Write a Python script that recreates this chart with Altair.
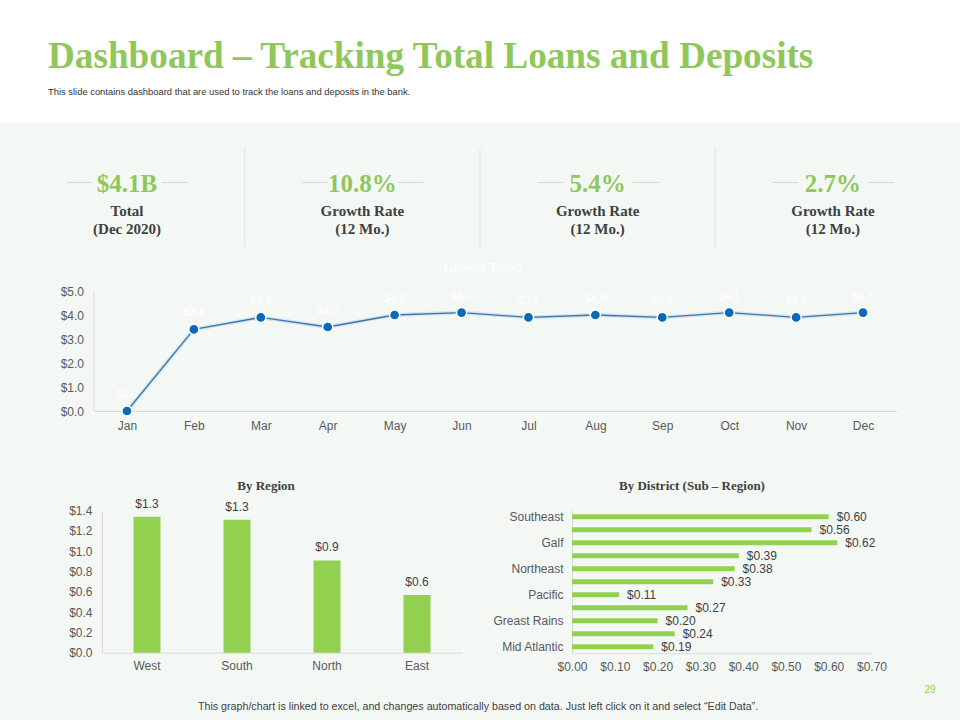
import json
import altair as alt
import pandas as pd

W, H = 960, 720
SERIF = "Liberation Serif"
SANS = "Liberation Sans"
GREEN = "#8fc75a"
BARGREEN = "#92d050"
BG = "#f4f8f5"
AXC = "#d9d9d9"
LBC = "#595959"
DARK = "#404040"

# ---------------- data ----------------
title_text = "Dashboard – Tracking Total Loans and Deposits"
subtitle_text = "This slide contains dashboard that are used to track the  loans and deposits in the bank."
footer_text = "This graph/chart is linked to excel, and changes automatically based on data. Just left click on it and select “Edit Data”."
page_no = "29"

kpi_values = ["$4.1B", "10.8%", "5.4%", "2.7%"]
kpi_line1 = ["Total", "Growth Rate", "Growth Rate", "Growth Rate"]
kpi_line2 = ["(Dec 2020)", "(12 Mo.)", "(12 Mo.)", "(12 Mo.)"]

trend_title = "Growth Trend"
months = ["Jan", "Feb", "Mar", "Apr", "May", "Jun", "Jul", "Aug", "Sep", "Oct", "Nov", "Dec"]
loans = [0.0, 3.4, 3.9, 3.5, 4.0, 4.1, 3.9, 4.0, 3.9, 4.1, 3.9, 4.1]
trend_ticks = [0, 1, 2, 3, 4, 5]

region_title = "By Region"
regions = ["West", "South", "North", "East"]
region_values = [1.34, 1.31, 0.91, 0.57]
region_ticks = [0, 0.2, 0.4, 0.6, 0.8, 1.0, 1.2, 1.4]

district_title = "By District (Sub – Region)"
district_labels = ["Southeast", "", "Galf", "", "Northeast", "", "Pacific", "", "Greast Rains", "", "Mid Atlantic"]
district_values = [0.60, 0.56, 0.62, 0.39, 0.38, 0.33, 0.11, 0.27, 0.20, 0.24, 0.19]
district_ticks = [0, 0.1, 0.2, 0.3, 0.4, 0.5, 0.6, 0.7]


# ---------------- helpers ----------------
def txt(s, x, y, size, color, font=SANS, weight="normal", align="left", baseline="alphabetic"):
    return alt.Chart(pd.DataFrame({"t": [s]})).mark_text(
        font=font, fontSize=size, fontWeight=weight, color=color,
        align=align, baseline=baseline
    ).encode(text="t:N", x=alt.value(x), y=alt.value(y))


def axis(orient, offset, **kw):
    base = dict(orient=orient, offset=offset, grid=False, ticks=False, labelOverlap=False,
                labelFlush=False, domainColor=AXC, labelColor=LBC, labelFont=SANS,
                labelFontSize=12)
    base.update(kw)
    return alt.Axis(**base)


# ---------------- background & header ----------------
bg = alt.Chart(pd.DataFrame({"a": [0]})).mark_rect(color="white").encode(
    x=alt.value(0), x2=alt.value(W), y=alt.value(0), y2=alt.value(123)
)
title = txt(title_text, 48, 68, 37.2, GREEN, font=SERIF, weight="bold")
subtitle = txt(subtitle_text, 48, 95, 9.4, "#333333")
footer = txt(footer_text, 478, 710, 10.7, DARK, align="center")
page = txt(page_no, 930, 693, 10, BARGREEN, align="center")

# ---------------- KPI row ----------------
kpi_df = pd.DataFrame({"idx": list(range(len(kpi_values))), "value": kpi_values,
                       "l1": kpi_line1, "l2": kpi_line2})
kx = alt.Scale(domain=[-0.5, 3.5], range=[9.35, 950.6])
kb = alt.Chart(kpi_df)
kpi_val = kb.mark_text(font=SERIF, fontSize=25, fontWeight="bold", color=GREEN,
                       baseline="alphabetic").encode(
    x=alt.X("idx:Q", scale=kx, axis=None), y=alt.value(191.5), text="value:N")
kpi_l1 = kb.mark_text(font=SERIF, fontSize=15, fontWeight="bold", color=DARK,
                      baseline="alphabetic").encode(
    x=alt.X("idx:Q", scale=kx, axis=None), y=alt.value(216), text="l1:N")
kpi_l2 = kb.mark_text(font=SERIF, fontSize=15, fontWeight="bold", color=DARK,
                      baseline="alphabetic").encode(
    x=alt.X("idx:Q", scale=kx, axis=None), y=alt.value(234), text="l2:N")
kl = kb.transform_calculate(a="datum.idx - 0.255", b="datum.idx - 0.149",
                            c="datum.idx + 0.149", d="datum.idx + 0.259")
kpi_left = kl.mark_rule(color="#cfdccf", strokeWidth=1).encode(
    x=alt.X("a:Q", scale=kx, axis=None), x2="b:Q", y=alt.value(182.5))
kpi_right = kl.mark_rule(color="#cfdccf", strokeWidth=1).encode(
    x=alt.X("c:Q", scale=kx, axis=None), x2="d:Q", y=alt.value(182.5))
kpi_div = kb.transform_filter("datum.idx < 3").transform_calculate(
    m="datum.idx + 0.5").mark_rule(color="#dde6dd", strokeWidth=1).encode(
    x=alt.X("m:Q", scale=kx, axis=None), y=alt.value(148), y2=alt.value(247))
kpi = alt.layer(kpi_div, kpi_left, kpi_right, kpi_val, kpi_l1, kpi_l2)

# ---------------- line chart ----------------
line_df = pd.DataFrame({"month": months, "loans": loans})
lb = alt.Chart(line_df).encode(
    x=alt.X("month:N", sort=months, title=None,
            scale=alt.Scale(type="point", padding=0.5, range=[93.5, 896.5]),
            axis=axis("bottom", 411 - H, labelAngle=0, labelPadding=9)),
    y=alt.Y("loans:Q", title=None,
            scale=alt.Scale(domain=[0, 5], range=[411, 291], nice=False),
            axis=axis("left", -93.5, values=trend_ticks, format="$.1f", labelPadding=10)),
)
glow = lb.mark_line(color="#b9d4ec", strokeWidth=4, opacity=0.5)
line = lb.mark_line(color="#3a76ad", strokeWidth=1.3)
pts = lb.mark_circle(size=105, color="#0b69bb", stroke="white", strokeWidth=1.5, opacity=1)
plabels = lb.mark_text(dy=-16, color="white", font=SANS, fontSize=11).encode(
    text=alt.Text("loans:Q", format="$.1f"))
trend = alt.layer(glow, line, pts, plabels)
trend_t = txt(trend_title, 483, 268, 13, "white", align="center", baseline="middle")

# ---------------- region bars ----------------
reg_df = pd.DataFrame({"region": regions, "value": region_values})
rb = alt.Chart(reg_df).encode(
    x=alt.X("region:N", sort=regions, title=None,
            scale=alt.Scale(type="band", range=[102, 462], paddingInner=0.7, paddingOuter=0.35),
            axis=axis("bottom", 652.7 - H, labelAngle=0, labelPadding=8)),
    y=alt.Y("value:Q", title=None,
            scale=alt.Scale(domain=[0, 1.4], range=[652.7, 510.7], nice=False),
            axis=axis("left", -102, values=region_ticks, format="$.1f", labelPadding=10)),
)
rbars = rb.mark_bar(color=BARGREEN)
rtext = rb.mark_text(dy=-6, baseline="bottom", color=DARK, font=SANS, fontSize=12).encode(
    text=alt.Text("value:Q", format="$.1f"))
region = alt.layer(rbars, rtext)
region_t = txt(region_title, 266, 490, 13, DARK, font=SERIF, weight="bold", align="center")

# ---------------- district bars ----------------
dist_df = pd.DataFrame({"row": list(range(len(district_values))), "value": district_values})
label_expr = json.dumps(district_labels) + "[datum.value]"
db = alt.Chart(dist_df).encode(
    y=alt.Y("row:O", title=None,
            scale=alt.Scale(type="band", range=[510.2, 653.2], paddingInner=0.62, paddingOuter=0.31),
            axis=axis("left", -572, labelExpr=label_expr, labelPadding=9)),
    x=alt.X("value:Q", title=None,
            scale=alt.Scale(domain=[0, 0.7], range=[572, 871.5], nice=False),
            axis=axis("bottom", 653.2 - H, values=district_ticks, format="$.2f", labelPadding=8)),
)
dbars = db.mark_bar(color=BARGREEN)
dtext = db.mark_text(dx=8, align="left", baseline="middle", color=DARK, font=SANS, fontSize=12).encode(
    text=alt.Text("value:Q", format="$.2f"))
district = alt.layer(dbars, dtext)
district_t = txt(district_title, 692, 490, 13, DARK, font=SERIF, weight="bold", align="center")

chart = alt.layer(
    bg, title, subtitle, kpi, trend, trend_t, region, region_t, district, district_t, footer, page
).resolve_scale(
    x="independent", y="independent"
).properties(
    width=W, height=H, padding=0, background=BG,
    autosize=alt.AutoSizeParams(type="none"),
).configure_view(stroke=None)

chart.save("out.html", embed_options={"renderer": "svg", "actions": False})
